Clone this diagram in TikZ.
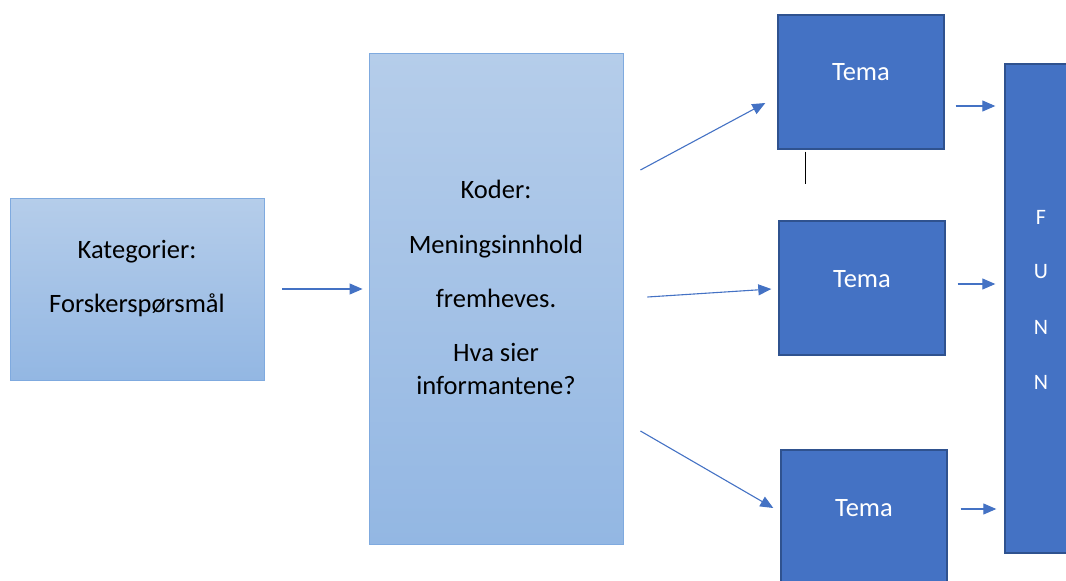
\documentclass[tikz,border=0pt]{standalone}
\usepackage{fontspec}
\setmainfont{Carlito}
\usetikzlibrary{arrows.meta,calc}

\definecolor{lighttop}{HTML}{B5CDEA}
\definecolor{lightbot}{HTML}{93B7E3}
\definecolor{lightedge}{HTML}{7FAADF}
\definecolor{darkfill}{HTML}{4472C4}
\definecolor{darkedge}{HTML}{2F528F}
\definecolor{arrowblue}{HTML}{4472C4}

\tikzset{
  lightbox/.style={draw=lightedge, line width=0.9pt, top color=lighttop, bottom color=lightbot,
    rectangle, inner sep=0pt},
  darkbox/.style={draw=darkedge, line width=1.4pt, fill=darkfill, rectangle, inner sep=0pt},
  bodytext/.style={font=\fontsize{26.5}{33}\selectfont, text=black, align=center, inner sep=0pt},
  whitetext/.style={font=\fontsize{26.5}{33}\selectfont, text=white, align=center, inner sep=0pt},
  lettertext/.style={font=\fontsize{22}{26}\selectfont, text=white, inner sep=0pt},
  flow/.style={draw=arrowblue, line width=1.1pt,
    -{Triangle[length=13pt,width=11pt]}},
}

\begin{document}
\begin{tikzpicture}[x=1pt,y=-1pt]
  \useasboundingbox (0,0) rectangle (1066,581);

  % boxes
  \node[lightbox, minimum width=254pt, minimum height=182pt] (kat) at (137,289) {};
  \node[lightbox, minimum width=254pt, minimum height=491pt] (koder) at (496,298.5) {};
  \node[darkbox, minimum width=166pt, minimum height=134pt] (t1) at (861,82) {};
  \node[darkbox, minimum width=166pt, minimum height=134pt] (t2) at (862,288) {};
  \node[darkbox, minimum width=166pt, minimum height=134pt] (t3) at (864,517) {};
  \node[darkbox, minimum width=80pt, minimum height=489pt] (funn) at (1045,308.5) {};

  % texts
  \node[bodytext] (kattext) at ($(kat.center)+(0,-10)$) {Kategorier:\\[21pt]Forskerspørsmål};
  \node[bodytext] (kodertext) at ($(koder.center)+(0,-11.5)$)
    {Koder:\\[22pt]Meningsinnhold\\[21pt]fremheves.\\[21pt]Hva sier\\informantene?};
  \node[whitetext] (t1text) at ($(t1.center)+(0,-10)$) {Tema};
  \node[whitetext] (t2text) at ($(t2.center)+(0,-9)$) {Tema};
  \node[whitetext] (t3text) at ($(t3.center)+(0,-9)$) {Tema};
  \node[lettertext] (lf) at (1041,217) {F};
  \node[lettertext] (lu) at (1041,272) {U};
  \node[lettertext] (ln1) at (1041,327) {N};
  \node[lettertext] (ln2) at (1041,382) {N};

  % connectors
  \draw[flow] ($(kat.east)+(18,0)$) -- ($(koder.west)+(-6,-9.5)$);
  \draw[flow] ($(koder.east)+(17,-128.5)$) -- ($(t1.west)+(-12,21)$);
  \draw[flow] ($(koder.east)+(24,-1.5)$) -- ($(t2.west)+(-7,1)$);
  \draw[flow] ($(koder.east)+(17,132.5)$) -- ($(t3.west)+(-7,-9)$);
  \draw[flow] ($(t1.east)+(11,24)$) -- ($(funn.west)+(-9,-202.5)$);
  \draw[flow] ($(t2.east)+(12,-4)$) -- ($(funn.west)+(-9,-24.5)$);
  \draw[flow] ($(t3.east)+(13,-8)$) -- ($(funn.west)+(-8,200.5)$);

  % small tick below the first theme box
  \coordinate (tick) at ($(t1.south west)+(28,2)$);
  \draw[black, line width=1pt] (tick) -- ++(0,32);
\end{tikzpicture}
\end{document}
